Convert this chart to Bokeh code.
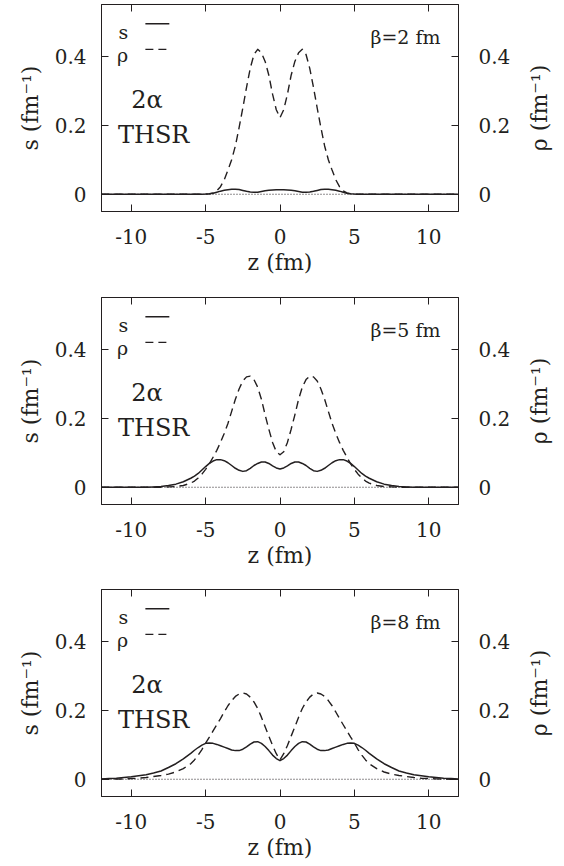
import math
from bokeh.plotting import figure
from bokeh.models import (Range1d, LinearAxis, FixedTicker, NumeralTickFormatter,
                          Label, Span, ColumnDataSource)
from bokeh.layouts import column, row
from bokeh.embed import file_html
from bokeh.resources import INLINE

# ---------------- data ----------------
z = [-12.0, -11.5, -11.0, -10.5, -10.0, -9.5, -9.0, -8.5, -8.0, -7.5, -7.0, -6.5, -6.0,
     -5.75, -5.5, -5.25, -5.0, -4.75, -4.5, -4.25, -4.0, -3.75, -3.5, -3.25, -3.0,
     -2.75, -2.5, -2.25, -2.0, -1.75, -1.5, -1.25, -1.0, -0.75, -0.5, -0.25,
     0.0,
     0.25, 0.5, 0.75, 1.0, 1.25, 1.5, 1.75, 2.0, 2.25, 2.5, 2.75, 3.0, 3.25, 3.5,
     3.75, 4.0, 4.25, 4.5, 4.75, 5.0, 5.25, 5.5, 5.75,
     6.0, 6.5, 7.0, 7.5, 8.0, 8.5, 9.0, 9.5, 10.0, 10.5, 11.0, 11.5, 12.0]

s_beta2 = ([0, 0, 0, 0, 0, 0, 0, 0, 0, 0, 0, 0, 0]
           + [0, 0, 0, 0.0005, 0.0015, 0.003, 0.006, 0.009, 0.0115, 0.013, 0.0142, 0.0145,
              0.0135, 0.011, 0.0085, 0.0065, 0.0055, 0.006, 0.008, 0.010, 0.0115, 0.0125, 0.013]
           + [0.013]
           + [0.013, 0.0125, 0.0115, 0.010, 0.008, 0.006, 0.0055, 0.0065, 0.0085, 0.011, 0.0135,
              0.0145, 0.0142, 0.013, 0.0115, 0.009, 0.006, 0.003, 0.0015, 0.0005, 0, 0, 0]
           + [0, 0, 0, 0, 0, 0, 0, 0, 0, 0, 0, 0, 0])
rho_beta2 = ([0, 0, 0, 0, 0, 0, 0, 0, 0, 0, 0, 0, 0]
             + [0, 0, 0, 0.0005, 0.001, 0.004, 0.010, 0.022, 0.042, 0.07, 0.10, 0.14, 0.193,
                0.25, 0.31, 0.365, 0.405, 0.42, 0.41, 0.385, 0.345, 0.29, 0.245]
             + [0.222]
             + [0.245, 0.29, 0.345, 0.385, 0.41, 0.42, 0.405, 0.365, 0.31, 0.25, 0.193, 0.14,
                0.10, 0.07, 0.042, 0.022, 0.010, 0.004, 0.001, 0.0005, 0, 0, 0]
             + [0, 0, 0, 0, 0, 0, 0, 0, 0, 0, 0, 0, 0])

s_beta5 = ([0, 0, 0, 0, 0, 0, 0, 0.001, 0.002, 0.005, 0.009, 0.016, 0.026]
           + [0.032, 0.040, 0.050, 0.060, 0.069, 0.076, 0.080, 0.080, 0.077, 0.071, 0.063, 0.055,
              0.049, 0.046, 0.048, 0.055, 0.063, 0.069, 0.073, 0.073, 0.069, 0.062, 0.056]
           + [0.053]
           + [0.056, 0.062, 0.069, 0.073, 0.073, 0.069, 0.063, 0.055, 0.048, 0.046, 0.049, 0.055,
              0.063, 0.071, 0.077, 0.080, 0.080, 0.076, 0.069, 0.060, 0.050, 0.040, 0.032]
           + [0.026, 0.016, 0.009, 0.005, 0.002, 0.001, 0, 0, 0, 0, 0, 0, 0])
rho_beta5 = ([0, 0, 0, 0, 0, 0, 0, 0, 0, 0.001, 0.002, 0.005, 0.012]
             + [0.018, 0.027, 0.038, 0.052, 0.068, 0.087, 0.107, 0.130, 0.156, 0.185, 0.220, 0.255,
                0.285, 0.308, 0.320, 0.322, 0.312, 0.290, 0.255, 0.210, 0.168, 0.130, 0.103]
             + [0.094]
             + [0.103, 0.130, 0.168, 0.210, 0.255, 0.290, 0.312, 0.322, 0.320, 0.308, 0.285, 0.255,
                0.220, 0.185, 0.156, 0.130, 0.107, 0.087, 0.068, 0.052, 0.038, 0.027, 0.018]
             + [0.012, 0.005, 0.002, 0.001, 0, 0, 0, 0, 0, 0, 0, 0, 0])

s_beta8 = ([0.001, 0.002, 0.003, 0.005, 0.007, 0.010, 0.013, 0.018, 0.024, 0.034, 0.045, 0.059, 0.075]
           + [0.084, 0.092, 0.099, 0.104, 0.105, 0.104, 0.101, 0.097, 0.093, 0.089, 0.085, 0.083,
              0.083, 0.087, 0.094, 0.102, 0.108, 0.109, 0.104, 0.095, 0.083, 0.070, 0.060]
           + [0.054]
           + [0.060, 0.070, 0.083, 0.095, 0.104, 0.109, 0.108, 0.102, 0.094, 0.087, 0.083, 0.083,
              0.085, 0.089, 0.093, 0.097, 0.101, 0.104, 0.105, 0.104, 0.099, 0.092, 0.084]
           + [0.075, 0.059, 0.045, 0.034, 0.024, 0.018, 0.013, 0.010, 0.007, 0.005, 0.003, 0.002, 0.001])
rho_beta8 = ([0, 0, 0.0005, 0.001, 0.002, 0.003, 0.005, 0.008, 0.011, 0.015, 0.021, 0.031, 0.045]
             + [0.056, 0.070, 0.086, 0.105, 0.122, 0.140, 0.158, 0.176, 0.195, 0.213, 0.228, 0.240,
                0.247, 0.250, 0.247, 0.238, 0.224, 0.205, 0.180, 0.152, 0.125, 0.098, 0.074]
             + [0.056]
             + [0.074, 0.098, 0.125, 0.152, 0.180, 0.205, 0.224, 0.238, 0.247, 0.250, 0.247, 0.240,
                0.228, 0.213, 0.195, 0.176, 0.158, 0.140, 0.122, 0.105, 0.086, 0.070, 0.056]
             + [0.045, 0.031, 0.021, 0.015, 0.011, 0.008, 0.005, 0.003, 0.002, 0.001, 0.0005, 0, 0])

beta_labels = ["β=2 fm", "β=5 fm", "β=8 fm"]
x_ticks = [-10, -5, 0, 5, 10]
y_ticks = [0, 0.2, 0.4]

for arr in (s_beta2, rho_beta2, s_beta5, rho_beta5, s_beta8, rho_beta8):
    assert len(arr) == len(z)

# ---------------- styling ----------------
FONT = "DejaVu Serif"
INK = "#231f20"


def style_axis(ax, tick_size="20px", label_size="22px"):
    ax.axis_line_color = INK
    ax.axis_line_width = 1
    ax.major_tick_in = 7
    ax.major_tick_out = 0
    ax.major_tick_line_color = INK
    ax.minor_tick_line_color = None
    ax.major_label_text_font = FONT
    ax.major_label_text_font_size = tick_size
    ax.major_label_text_color = INK
    ax.axis_label_text_font = FONT
    ax.axis_label_text_font_size = label_size
    ax.axis_label_text_font_style = "normal"
    ax.axis_label_text_color = INK


def make_panel(s, rho, beta_text, bottom_border):
    p = figure(frame_width=357, frame_height=207,
               x_range=Range1d(-12, 12), y_range=Range1d(-0.05, 0.55),
               output_backend="svg", toolbar_location=None,
               min_border_left=101, min_border_right=55,
               min_border_top=4, min_border_bottom=bottom_border,
               x_axis_location=None, y_axis_location=None)
    p.xgrid.visible = False
    p.ygrid.visible = False
    p.outline_line_color = INK
    p.outline_line_width = 1
    p.background_fill_color = "white"
    p.border_fill_color = "white"

    xb = LinearAxis(ticker=FixedTicker(ticks=x_ticks),
                    formatter=NumeralTickFormatter(format="0"),
                    axis_label="z (fm)")
    style_axis(xb)
    xb.major_label_standoff = 17
    xb.axis_label_standoff = 3
    p.add_layout(xb, "below")

    yl = LinearAxis(ticker=FixedTicker(ticks=y_ticks),
                    formatter=NumeralTickFormatter(format="0.[0]"),
                    axis_label="s (fm⁻¹)")
    style_axis(yl)
    yl.major_label_standoff = 15
    yl.axis_label_standoff = 9
    p.add_layout(yl, "left")

    yr = LinearAxis(ticker=FixedTicker(ticks=y_ticks),
                    formatter=NumeralTickFormatter(format="0.[0]"))
    style_axis(yr)
    yr.major_label_standoff = 20
    p.add_layout(yr, "right")

    xt = LinearAxis(ticker=FixedTicker(ticks=x_ticks),
                    major_label_overrides={t: "" for t in x_ticks})
    style_axis(xt, tick_size="0px")
    xt.major_label_standoff = 0
    p.add_layout(xt, "above")

    p.add_layout(Span(location=0, dimension="width", line_color=INK,
                      line_width=1.1, line_dash="1 2"))

    src = ColumnDataSource(dict(z=z, s=s, rho=rho))
    p.line("z", "rho", source=src, line_color=INK, line_width=1.4, line_dash="8 5",
           line_join="round")
    p.line("z", "s", source=src, line_color=INK, line_width=1.5, line_join="round")

    p.add_layout(Label(x=-10.2, y=0.470, text="s", text_align="right",
                       text_baseline="alphabetic", text_font=FONT,
                       text_font_size="19px", text_color=INK))
    p.add_layout(Label(x=-10.2, y=0.405, text="ρ", text_align="right",
                       text_baseline="alphabetic", text_font=FONT,
                       text_font_size="19px", text_color=INK))
    p.line([-9.05, -7.44], [0.4945, 0.4945], line_color=INK, line_width=1.5)
    p.line([-9.05, -7.44], [0.420, 0.420], line_color=INK, line_width=1.4,
           line_dash="8 5")

    p.add_layout(Label(x=-8.95, y=0.273, text="2α", text_align="center",
                       text_baseline="alphabetic", text_font=FONT,
                       text_font_size="24px", text_color=INK))
    p.add_layout(Label(x=-8.49, y=0.171, text="THSR", text_align="center",
                       text_baseline="alphabetic", text_font=FONT,
                       text_font_size="24px", text_color=INK))
    p.add_layout(Label(x=10.79, y=0.456, text=beta_text, text_align="right",
                       text_baseline="alphabetic", text_font=FONT,
                       text_font_size="19px", text_color=INK))

    # narrow companion figure carrying the right-hand (rho) axis title,
    # read bottom-to-top like the left one
    q = figure(frame_width=13, frame_height=207,
               x_range=Range1d(0, 1), y_range=Range1d(-0.05, 0.55),
               output_backend="svg", toolbar_location=None,
               min_border_left=38, min_border_right=0,
               min_border_top=4, min_border_bottom=bottom_border,
               x_axis_location=None, y_axis_location=None)
    q.xgrid.visible = False
    q.ygrid.visible = False
    q.outline_line_color = None
    q.background_fill_color = "white"
    q.border_fill_color = "white"
    ql = LinearAxis(ticker=FixedTicker(ticks=[]), axis_label="ρ (fm⁻¹)")
    style_axis(ql)
    ql.axis_line_color = None
    ql.major_tick_in = 0
    ql.major_label_standoff = 0
    ql.axis_label_standoff = 0
    q.add_layout(ql, "left")
    return row(p, q, spacing=0)


r1 = make_panel(s_beta2, rho_beta2, beta_labels[0], 82)
r2 = make_panel(s_beta5, rho_beta5, beta_labels[1], 81)
r3 = make_panel(s_beta8, rho_beta8, beta_labels[2], 70)

p = column(r1, r2, r3, spacing=0)
open("out.html", "w").write(file_html(p, INLINE))
